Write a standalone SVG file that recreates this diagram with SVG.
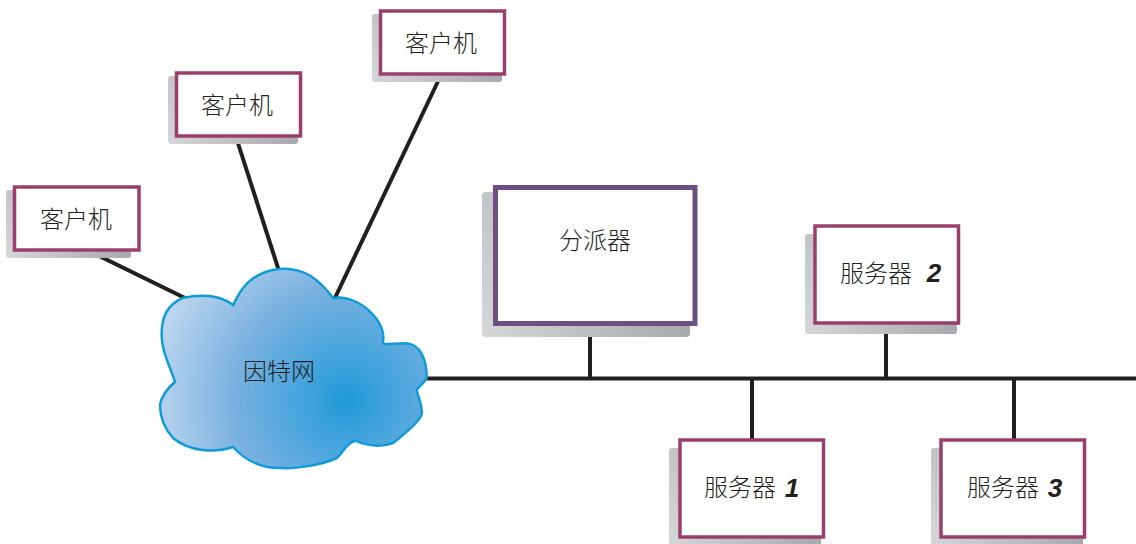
<svg xmlns="http://www.w3.org/2000/svg" width="1136" height="544" viewBox="0 0 1136 544">
<style>
text{font-family:"Noto Sans CJK SC","Noto Sans CJK JP",sans-serif;font-size:24px;font-weight:300;fill:#231f20;text-anchor:middle}
.num{font-family:"Liberation Sans",Arial,sans-serif;font-weight:700;font-style:italic;font-size:26px}
.box{fill:#fff;stroke:#9a3f6c;stroke-width:3.5}
.disp{fill:#fff;stroke:#6e4f82;stroke-width:5}
.sh{fill:url(#sg)}
.wire{stroke:#231f20;stroke-width:4;fill:none}
</style>
<defs>
<linearGradient id="sg" x1="0" y1="1" x2="1" y2="0.6">
<stop offset="0" stop-color="#d6d7d9"/><stop offset="1" stop-color="#a1a3a6"/>
</linearGradient>
<radialGradient id="cg" gradientUnits="userSpaceOnUse" cx="347" cy="400" r="205">
<stop offset="0" stop-color="#1b9ad6"/><stop offset="0.18" stop-color="#3fa2dc"/><stop offset="0.55" stop-color="#78b1e0"/><stop offset="1" stop-color="#c3d9f1"/>
</radialGradient>
</defs>
<g id="connectors">
<path class="wire" d="M89 251L187 299M236 137L279 271M441 75L334 300M426 378.500H1136M590 326V378M752 378V439M886 323V378M1014 378V439"/>
</g>
<g id="client1"><rect class="sh" x="6" y="190" width="125" height="68" rx="3"/><rect class="box" x="14.500" y="187" width="124.500" height="63"/><text x="76" y="228">客户机</text></g>
<g id="client2"><rect class="sh" x="168" y="76" width="130" height="68" rx="3"/><rect class="box" x="176.500" y="73" width="124" height="63"/><text x="237" y="114">客户机</text></g>
<g id="client3"><rect class="sh" x="372" y="14" width="130" height="68" rx="3"/><rect class="box" x="380.500" y="11" width="124" height="63"/><text x="441" y="52">客户机</text></g>
<g id="internet"><path d="M183.300 297.700C201 294.300 220 295 233.300 305C240 290 250 273 278.300 269C303.300 267 318 278 333.300 298.300C353.300 293.300 385 316.700 383.300 340C381 346 385 343.500 406.700 343.300C420 345 426.700 358 426.700 378C422 386 416.700 388 416.700 390C418 396 423 408 421.700 414C420 422 402 436 393 443C380 448 368 446 355 440.700C346 443 342 454 336.700 458C320 466 290 469 283 468C262 469 245 460 233 447C215 453 190 452 173 438C164 428 160 418 160 405C162 393 170 386 175 381.700C168 362 162 350 161.700 336.700C161 315 168 305 183.300 297.700Z" fill="url(#cg)" stroke="#0f9bd7" stroke-width="2.500"/><text x="279" y="380">因特网</text></g>
<g id="dispatcher"><rect class="sh" x="482" y="192" width="208" height="145" rx="4"/><rect class="disp" x="495.500" y="187.500" width="199.500" height="136"/><text x="595" y="249">分派器</text></g>
<g id="server2"><rect class="sh" x="805" y="234" width="152" height="100" rx="3"/><rect class="box" x="815" y="226" width="143.500" height="97"/><text x="876" y="282">服务器</text><text class="num" x="934" y="282">2</text></g>
<g id="server1"><rect class="sh" x="669" y="448" width="152" height="100" rx="3"/><rect class="box" x="680" y="440" width="143.500" height="97"/><text x="740" y="496">服务器</text><text class="num" x="792" y="497">1</text></g>
<g id="server3"><rect class="sh" x="931" y="448" width="152" height="100" rx="3"/><rect class="box" x="941" y="440" width="143.500" height="97"/><text x="1003" y="496">服务器</text><text class="num" x="1055" y="497">3</text></g>
</svg>
